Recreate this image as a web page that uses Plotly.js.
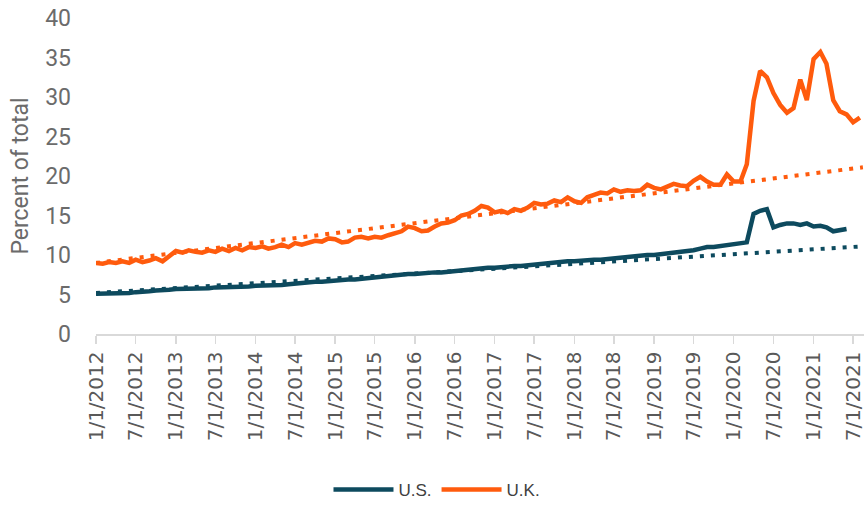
<!DOCTYPE html>
<html>
<head>
<meta charset="utf-8">
<script src="https://cdn.plot.ly/plotly-3.0.1.min.js"></script>
<style>
  html, body { margin: 0; padding: 0; background: #ffffff; }
  #chart { width: 864px; height: 508px; }
</style>
</head>
<body>
<div id="chart"></div>
<script>
// Monthly series start Jan 2012
const startYear = 2012;

// U.K. share of total (%) monthly, Jan 2012 - Aug 2021
const ukValues = [
  9.0, 8.9, 9.1, 9.0, 9.2, 9.0, 9.4, 9.1, 9.3, 9.6, 9.2, 9.8,
  10.5, 10.3, 10.6, 10.4, 10.3, 10.6, 10.4, 10.8, 10.5, 10.9, 10.6, 11.0,
  10.9, 11.1, 10.8, 11.0, 11.3, 11.0, 11.5, 11.3, 11.6, 11.8, 11.7, 12.1,
  12.0, 11.6, 11.7, 12.2, 12.3, 12.1, 12.3, 12.2, 12.5, 12.8, 13.0, 13.6,
  13.4, 13.0, 13.1, 13.6, 14.0, 14.1, 14.4, 15.0, 15.2, 15.6, 16.2, 16.0,
  15.4, 15.6, 15.3, 15.8, 15.6, 16.0, 16.6, 16.4, 16.5, 16.9, 16.7, 17.3,
  16.8, 16.6, 17.3, 17.6, 17.9, 17.8, 18.3, 18.0, 18.2, 18.1, 18.2, 18.9,
  18.5, 18.3, 18.6, 19.0, 18.8, 18.7, 19.4, 19.9, 19.3, 18.9, 18.9, 20.2,
  19.3, 19.3, 21.5, 29.5, 33.3, 32.5, 30.5, 29.0, 28.0, 28.6, 32.2, 29.6,
  34.8, 35.7, 34.2, 29.6, 28.2, 27.8, 26.8, 27.4
];

// U.S. share of total (%) monthly, Jan 2012 - Jun 2021
const usValues = [
  5.1, 5.1, 5.1, 5.2, 5.2, 5.2, 5.3, 5.3, 5.4, 5.5, 5.5, 5.6,
  5.7, 5.7, 5.8, 5.8, 5.8, 5.8, 5.9, 5.9, 5.9, 6.0, 6.0, 6.0,
  6.1, 6.1, 6.2, 6.2, 6.2, 6.3, 6.4, 6.4, 6.5, 6.6, 6.6, 6.7,
  6.8, 6.8, 6.9, 6.9, 7.0, 7.0, 7.1, 7.2, 7.3, 7.4, 7.5, 7.6,
  7.6, 7.7, 7.7, 7.8, 7.8, 7.9, 8.0, 8.0, 8.1, 8.3, 8.4, 8.4,
  8.4, 8.5, 8.5, 8.6, 8.6, 8.7, 8.8, 8.8, 8.9, 9.0, 9.1, 9.2,
  9.2, 9.3, 9.3, 9.4, 9.4, 9.5, 9.6, 9.6, 9.7, 9.8, 9.9, 10.0,
  10.0, 10.1, 10.1, 10.2, 10.3, 10.4, 10.6, 10.8, 11.0, 11.0, 11.1, 11.2,
  11.3, 11.4, 11.6, 15.2, 15.6, 15.8, 13.5, 13.8, 14.0, 14.0, 13.8, 14.0,
  13.6, 13.7, 13.5, 13.0, 13.2, 13.3
];

// Linear trend endpoints
const trendDates = ['2012-01-01', '2021-08-15'];
const ukTrend = [9.0, 21.1];
const usTrend = [5.2, 11.1];

// Tick positions / labels
const tickDates = [
  '2012-01-01','2012-07-01','2013-01-01','2013-07-01','2014-01-01','2014-07-01',
  '2015-01-01','2015-07-01','2016-01-01','2016-07-01','2017-01-01','2017-07-01',
  '2018-01-01','2018-07-01','2019-01-01','2019-07-01','2020-01-01','2020-07-01',
  '2021-01-01','2021-07-01'
];
const tickLabels = [
  '1/1/2012','7/1/2012','1/1/2013','7/1/2013','1/1/2014','7/1/2014',
  '1/1/2015','7/1/2015','1/1/2016','7/1/2016','1/1/2017','7/1/2017',
  '1/1/2018','7/1/2018','1/1/2019','7/1/2019','1/1/2020','7/1/2020',
  '1/1/2021','7/1/2021'
];

function monthDates(n) {
  const out = [];
  for (let i = 0; i < n; i++) {
    const y = startYear + Math.floor(i / 12);
    const m = (i % 12) + 1;
    out.push(y + '-' + String(m).padStart(2, '0') + '-01');
  }
  return out;
}

const US_COLOR = '#0d4a5e';
const UK_COLOR = '#ff5b0d';

const traces = [
  {
    x: trendDates, y: usTrend, type: 'scatter', mode: 'lines',
    line: { color: US_COLOR, width: 4, dash: '4px,7px' },
    showlegend: false, hoverinfo: 'skip'
  },
  {
    x: trendDates, y: ukTrend, type: 'scatter', mode: 'lines',
    line: { color: UK_COLOR, width: 4, dash: '4px,7px' },
    showlegend: false, hoverinfo: 'skip'
  },
  {
    x: monthDates(usValues.length), y: usValues, type: 'scatter', mode: 'lines',
    name: 'U.S.', line: { color: US_COLOR, width: 4.5 }
  },
  {
    x: monthDates(ukValues.length), y: ukValues, type: 'scatter', mode: 'lines',
    name: 'U.K.', line: { color: UK_COLOR, width: 4.5 }
  }
];

const layout = {
  width: 864, height: 508,
  margin: { l: 96, r: 0, t: 18, b: 173 },
  paper_bgcolor: '#ffffff', plot_bgcolor: '#ffffff',
  showlegend: true,
  legend: {
    orientation: 'h', x: 0.444, xanchor: 'center', y: -0.495, yanchor: 'middle',
    font: { family: 'Liberation Sans, Arial, sans-serif', size: 17, color: '#404040' },
    itemwidth: 60, traceorder: 'normal'
  },
  xaxis: {
    type: 'date',
    range: ['2012-01-01', '2021-08-20'],
    tickmode: 'array', tickvals: tickDates, ticktext: tickLabels,
    tickangle: -90,
    ticklabeloverflow: 'allow',
    tickfont: { family: 'DejaVu Sans, sans-serif', size: 20, color: '#595959' },
    ticks: 'outside', ticklen: 8, tickcolor: '#d9d9d9', tickwidth: 1.5,
    showline: true, linecolor: '#d9d9d9', linewidth: 1.5,
    showgrid: false, zeroline: false
  },
  yaxis: {
    range: [0, 40],
    tickmode: 'array', tickvals: [0, 5, 10, 15, 20, 25, 30, 35, 40],
    tickfont: { family: 'Roboto, sans-serif', size: 23, color: '#6b6b6b' },
    ticklabelstandoff: 24,
    showline: false, showgrid: false, zeroline: false, ticks: '',
    title: { text: 'Percent of total', font: { family: 'Roboto, sans-serif', size: 23, color: '#6b6b6b' }, standoff: 10 }
  }
};

Plotly.newPlot('chart', traces, layout, { displayModeBar: false, staticPlot: true });
</script>
</body>
</html>
